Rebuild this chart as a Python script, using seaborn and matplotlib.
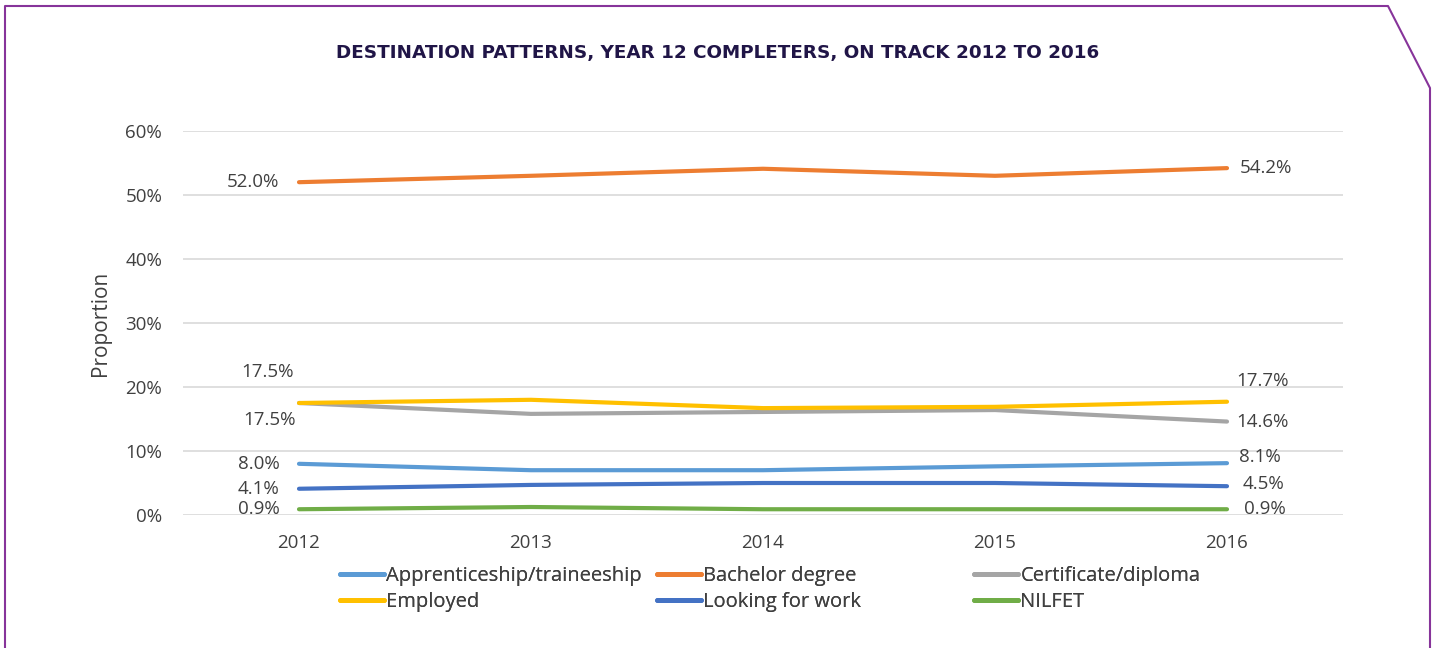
import pandas as pd
import matplotlib.pyplot as plt
import seaborn as sns
from matplotlib.lines import Line2D

# Data (percent)
years = ["2012", "2013", "2014", "2015", "2016"]
apprenticeship = [8.0, 7.0, 7.0, 7.6, 8.1]
bachelor = [52.0, 53.0, 54.1, 53.0, 54.2]
certificate = [17.5, 15.8, 16.1, 16.4, 14.6]
employed = [17.5, 18.0, 16.7, 16.9, 17.7]
looking = [4.1, 4.7, 5.0, 5.0, 4.5]
nilfet = [0.9, 1.25, 0.9, 0.9, 0.9]

series_names = ["Apprenticeship/traineeship", "Bachelor degree", "Certificate/diploma",
                "Employed", "Looking for work", "NILFET"]
series_values = [apprenticeship, bachelor, certificate, employed, looking, nilfet]
colors = ["#5B9BD5", "#ED7D31", "#A5A5A5", "#FFC000", "#4472C4", "#70AD47"]

rows = []
for name, vals in zip(series_names, series_values):
    for i, v in enumerate(vals):
        rows.append({"Year": i, "Series": name, "Value": v})
df = pd.DataFrame(rows)

sns.set_theme(style="white")
plt.rcParams["font.family"] = ["Open Sans", "DejaVu Sans"]
text_col = "#404040"
fs = 13.5

fig = plt.figure(figsize=(14.35, 6.48), dpi=100)
ax = fig.add_axes([183 / 1435, 1 - 515 / 648, (1343 - 183) / 1435, (515 - 131) / 648])

sns.lineplot(data=df, x="Year", y="Value", hue="Series", palette=colors,
             linewidth=3.0, legend=False, ax=ax, solid_capstyle="round")

ax.set_xlim(-0.5, 4.5)
ax.set_ylim(0, 60)
ax.set_yticks(range(0, 61, 10))
ax.set_yticklabels([f"{t}%" for t in range(0, 61, 10)])
ax.set_xticks(range(len(years)))
ax.set_xticklabels(years)
ax.grid(axis="y", color="#d9d9d9", linewidth=1.2)
ax.set_axisbelow(True)
for s in ax.spines.values():
    s.set_visible(False)
ax.tick_params(axis="both", colors=text_col, labelsize=fs, length=0)
ax.tick_params(axis="y", pad=15)
ax.tick_params(axis="x", pad=14)
ax.set_xlabel("")
ax.set_ylabel("Proportion", color=text_col, fontsize=15, labelpad=10)

# Data labels at first and last points (offsets in points)
first_offsets = [(-14, 0), (-14, 0), (-2, -12), (-4, 22), (-14, 0), (-14, 0)]
last_offsets = [(9, 4.5), (9, 0), (7, 0), (7, 15), (11, 1.5), (12, 0)]
for vals, fo, lo in zip(series_values, first_offsets, last_offsets):
    ax.annotate(f"{vals[0]:.1f}%", (0, vals[0]), xytext=fo, textcoords="offset points",
                ha="right", va="center", fontsize=fs, color=text_col)
    ax.annotate(f"{vals[-1]:.1f}%", (4, vals[-1]), xytext=lo, textcoords="offset points",
                ha="left", va="center", fontsize=fs, color=text_col)

# Legend: three fixed-width columns of two entries each
handles = [Line2D([0], [0], color=c, linewidth=3.5, solid_capstyle="round") for c in colors]
columns = [[0, 3], [1, 4], [2, 5]]
col_x = [340, 657, 974]
for xs, idx in zip(col_x, columns):
    leg = fig.legend([handles[i] for i in idx], [series_names[i] for i in idx],
                     loc="upper left", bbox_to_anchor=(xs / 1435, 1 - 566 / 648),
                     ncol=1, frameon=False, fontsize=14.5, labelcolor=text_col,
                     handlelength=2.2, handletextpad=0.1, labelspacing=0.3,
                     borderpad=0, borderaxespad=0)
    fig.add_artist(leg)

# Title
fig.text(0.5, 1 - 53 / 648, "DESTINATION PATTERNS, YEAR 12 COMPLETERS, ON TRACK 2012 TO 2016",
         ha="center", va="center", fontsize=13.2, fontweight="bold", color="#201547",
         family=["DejaVu Sans"])

# Purple frame with cut corner
W, H = 1435, 648
px = [5, 5, 1388, 1430, 1430]
py = [648, 6, 6, 88, 648]
fig.add_artist(Line2D([x / W for x in px], [1 - y / H for y in py],
                      color="#87349A", linewidth=1.5, transform=fig.transFigure))

fig.savefig("out.png", dpi=100, facecolor="white")
